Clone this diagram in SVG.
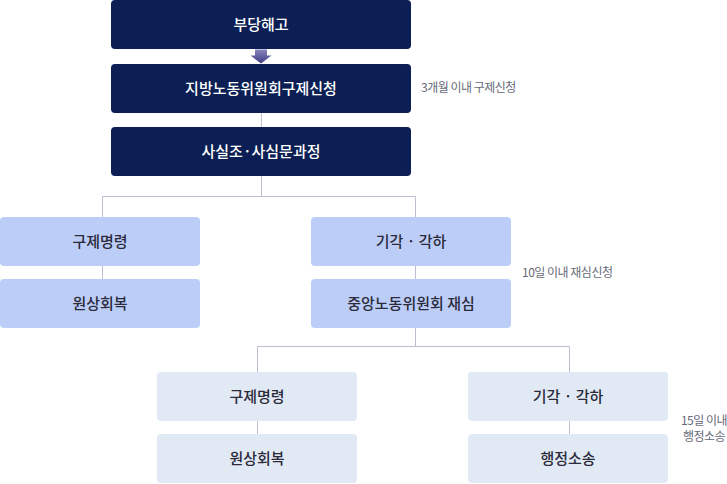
<svg xmlns="http://www.w3.org/2000/svg" width="727" height="484" viewBox="0 0 727 484">
<defs>
<style>
.dark{fill:#0b1f54}
.lb{fill:#bccef8}
.lg{fill:#e1e9f4}
.t{font-family:"Noto Sans CJK KR","Noto Sans",sans-serif;font-size:15px;text-anchor:middle}
.tw{fill:#ffffff;font-weight:500}
.td{fill:#2a2a3a;font-weight:500}
.note{font-family:"Noto Sans CJK KR","Noto Sans",sans-serif;font-size:12px;fill:#666a77;letter-spacing:-0.5px}
.ln{fill:none;stroke:#bdbdd3;stroke-width:1}
</style>
<linearGradient id="ag" x1="0" y1="0" x2="0" y2="1">
<stop offset="0" stop-color="#8a85bd"/>
<stop offset="1" stop-color="#3e3b80"/>
</linearGradient>
</defs>
<g id="connectors">
<path class="ln" d="M261.5 113V127"/>
<path class="ln" d="M261.5 176V196.5"/>
<path class="ln" d="M102.5 217V196.5H415.5V217"/>
<path class="ln" d="M102.5 266V279M415.5 266V279"/>
<path class="ln" d="M415.5 328V346.5"/>
<path class="ln" d="M257.5 372V346.5H569.5V372"/>
<path class="ln" d="M257.5 421V434M569.5 421V434"/>
<path d="M255 49.5H267V55.5H271.5L261 63.5L250.5 55.5H255Z" fill="url(#ag)"/>
</g>
<g id="n1"><rect class="dark" x="111" y="0" width="300" height="49" rx="4"/><text class="t tw" x="261" y="30">부당해고</text></g>
<g id="n2"><rect class="dark" x="111" y="64" width="300" height="49" rx="4"/><text class="t tw" x="261" y="94">지방노동위원회구제신청</text></g>
<g id="note1"><text class="note" x="421" y="92">3개월 이내 구제신청</text></g>
<g id="n3"><rect class="dark" x="111" y="127" width="300" height="49" rx="4"/><text class="t tw" x="261" y="157">사실조·사심문과정</text></g>
<g id="n4"><rect class="lb" x="0" y="217" width="200" height="49" rx="4"/><text class="t td" x="100" y="247">구제명령</text></g>
<g id="n5"><rect class="lb" x="0" y="279" width="200" height="49" rx="4"/><text class="t td" x="100" y="309">원상회복</text></g>
<g id="n6"><rect class="lb" x="311" y="217" width="200" height="49" rx="4"/><text class="t td" x="411" y="247">기각 · 각하</text></g>
<g id="n7"><rect class="lb" x="311" y="279" width="200" height="49" rx="4"/><text class="t td" x="411" y="309">중앙노동위원회 재심</text></g>
<g id="note2"><text class="note" x="522" y="277">10일 이내 재심신청</text></g>
<g id="n8"><rect class="lg" x="157" y="372" width="200" height="49" rx="4"/><text class="t td" x="257" y="402">구제명령</text></g>
<g id="n9"><rect class="lg" x="157" y="434" width="200" height="49" rx="4"/><text class="t td" x="257" y="464">원상회복</text></g>
<g id="n10"><rect class="lg" x="468" y="372" width="200" height="49" rx="4"/><text class="t td" x="568" y="402">기각 · 각하</text></g>
<g id="n11"><rect class="lg" x="468" y="434" width="200" height="49" rx="4"/><text class="t td" x="568" y="464">행정소송</text></g>
<g id="note3"><text class="note" x="704" y="425" text-anchor="middle">15일 이내</text><text class="note" x="704" y="441" text-anchor="middle">행정소송</text></g>
</svg>
